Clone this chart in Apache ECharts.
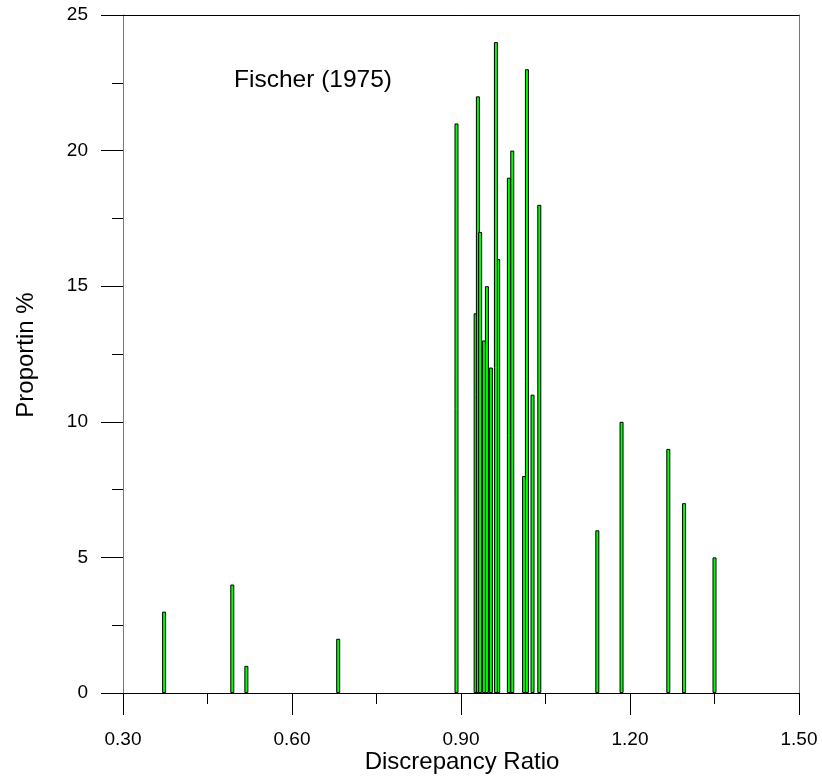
<!DOCTYPE html>
<html>
<head>
<meta charset="utf-8">
<script src="https://cdn.jsdelivr.net/npm/echarts@6/dist/echarts.min.js"></script>
<style>
html,body{margin:0;padding:0;background:#fff;}
#chart{width:822px;height:783px;}
</style>
</head>
<body>
<div id="chart"></div>
<script>
// Discrepancy ratio positions (x) and proportions (%) — listed in drawing order
const ratios = [0.373, 0.494, 0.519, 0.682, 0.892, 0.926, 0.930, 0.934, 0.941, 0.946, 0.953, 0.966, 0.962, 0.985, 0.991, 1.012, 1.017, 1.027, 1.039, 1.142, 1.185, 1.268, 1.296, 1.350];
const proportions = [3, 4, 1, 2, 21, 14, 22, 17, 13, 15, 12, 16, 24, 19, 20, 8, 23, 11, 18, 6, 10, 9, 7, 5];
const xTicks = [0.30, 0.60, 0.90, 1.20, 1.50];
const yTicks = [0, 5, 10, 15, 20, 25];
const title = 'Fischer (1975)';
const xName = 'Discrepancy Ratio';
const yName = 'Proportin %';

const FONT = '"Liberation Sans", Arial, sans-serif';
const data = ratios.map((r, i) => [r, proportions[i]]);

const chart = echarts.init(document.getElementById('chart'), null, {renderer: 'canvas'});
chart.setOption({
  animation: false,
  backgroundColor: '#fff',
  grid: {left: 123, right: 23, top: 15, bottom: 90, containLabel: false},
  xAxis: [{
    type: 'value', min: xTicks[0], max: xTicks[xTicks.length - 1], interval: 0.3,
    axisLine: {show: true, lineStyle: {color: '#000', width: 1}},
    axisTick: {show: true, inside: false, length: 22, lineStyle: {color: '#000'}},
    minorTick: {show: true, splitNumber: 2, length: 11, lineStyle: {color: '#000'}},
    splitLine: {show: false},
    axisLabel: {margin: 37, fontSize: 19, color: '#000', fontFamily: FONT,
      formatter: v => Number(v).toFixed(2)}
  }, {
    type: 'value', position: 'top', min: xTicks[0], max: xTicks[xTicks.length - 1],
    axisLine: {show: true, onZero: false, lineStyle: {color: '#000', width: 1}},
    axisTick: {show: false}, axisLabel: {show: false}, splitLine: {show: false}
  }],
  yAxis: [{
    type: 'value', min: yTicks[0], max: yTicks[yTicks.length - 1], interval: 5,
    axisLine: {show: true, onZero: false, lineStyle: {color: '#777', width: 1}},
    axisTick: {show: true, inside: false, length: 22, lineStyle: {color: '#000'}},
    minorTick: {show: true, splitNumber: 2, length: 11, lineStyle: {color: '#000'}},
    splitLine: {show: false},
    axisLabel: {margin: 35, fontSize: 19, color: '#000', fontFamily: FONT}
  }, {
    type: 'value', position: 'right', min: yTicks[0], max: yTicks[yTicks.length - 1],
    axisLine: {show: true, onZero: false, lineStyle: {color: '#777', width: 1}},
    axisTick: {show: false}, axisLabel: {show: false}, splitLine: {show: false}
  }],
  series: [{
    type: 'bar',
    xAxisIndex: 0, yAxisIndex: 0,
    data: data,
    barWidth: 4,
    itemStyle: {color: '#00ff00', borderColor: '#000', borderWidth: 1},
    emphasis: {disabled: true}
  }],
  graphic: [
    {type: 'text', x: 234, y: 80, style: {text: title, fontSize: 24.5, fontFamily: FONT, fill: '#000', textAlign: 'left', textVerticalAlign: 'middle'}},
    {type: 'text', x: 462, y: 762, style: {text: xName, fontSize: 24, fontFamily: FONT, fill: '#000', textAlign: 'center', textVerticalAlign: 'middle'}},
    {type: 'text', rotation: Math.PI / 2, x: 26, y: 355, style: {text: yName, fontSize: 24, fontFamily: FONT, fill: '#000', textAlign: 'center', textVerticalAlign: 'middle'}}
  ]
});
</script>
</body>
</html>
